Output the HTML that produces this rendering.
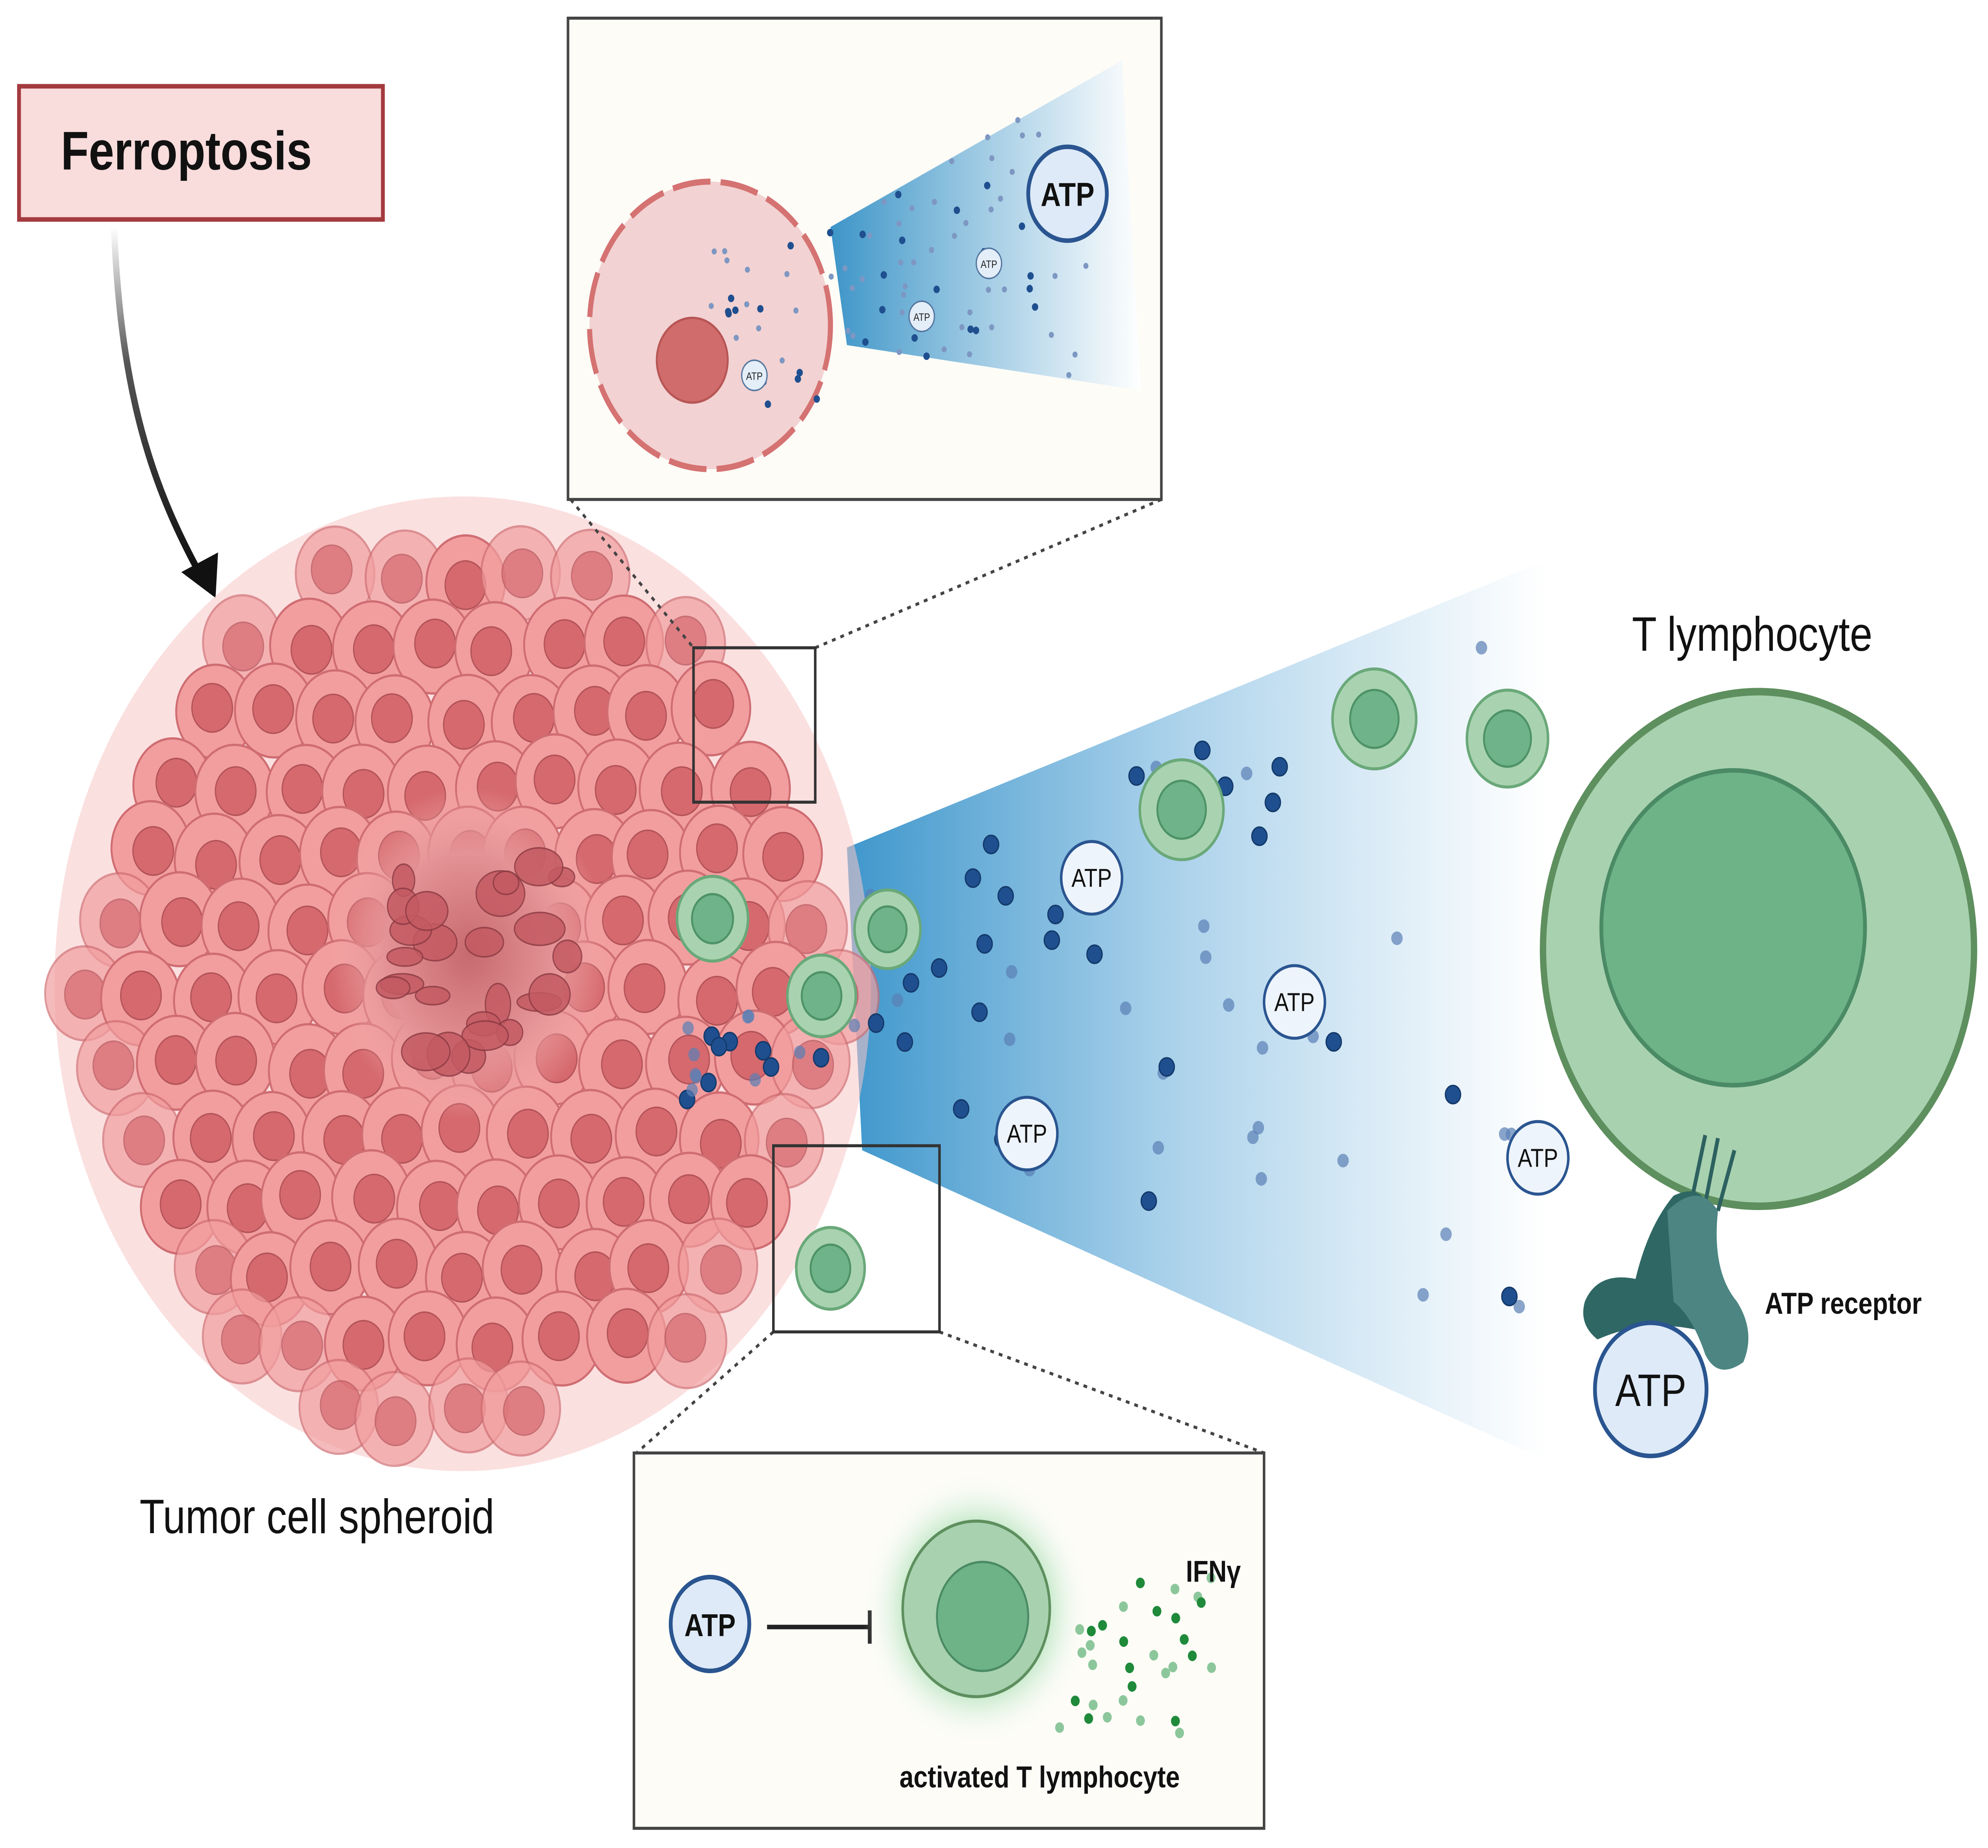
<!DOCTYPE html>
<html><head><meta charset="utf-8"><style>html,body{margin:0;padding:0;background:#fff;width:100%;height:100%;overflow:hidden}svg{display:block;width:100vw;height:100vh}text{font-family:"Liberation Sans",sans-serif}</style></head>
<body>
<svg id="s" viewBox="0 0 1568 1221" preserveAspectRatio="none" xmlns="http://www.w3.org/2000/svg">
<defs>
<linearGradient id="arr" x1="0" y1="0" x2="0" y2="1"><stop offset="0" stop-color="#fff"/><stop offset="0.4" stop-color="#555"/><stop offset="1" stop-color="#111"/></linearGradient>
<linearGradient id="cone" x1="0" y1="0" x2="1" y2="0"><stop offset="0" stop-color="#3f97cc"/><stop offset="0.45" stop-color="#a8d0ea"/><stop offset="1" stop-color="#fff" stop-opacity="0.9"/></linearGradient>
<linearGradient id="cone2" x1="0" y1="0" x2="1" y2="0"><stop offset="0" stop-color="#3d95c8"/><stop offset="1" stop-color="#fff" stop-opacity="0.9"/></linearGradient>
<radialGradient id="glow"><stop offset="0.5" stop-color="#7fd08f" stop-opacity="0.8"/><stop offset="1" stop-color="#fff" stop-opacity="0"/></radialGradient>
<radialGradient id="core"><stop offset="0" stop-color="#c66a6e"/><stop offset="0.6" stop-color="#e49295"/><stop offset="1" stop-color="#f3a9a9" stop-opacity="0"/></radialGradient>
</defs>
<rect width="1568" height="1221" fill="#fff"/>
<rect x="15" y="57" width="287" height="88" fill="#f9dcdc" stroke="#a33a3f" stroke-width="3"/>
<text x="48" y="112" font-size="36" font-weight="bold" fill="#111">Ferroptosis</text>
<path d="M90 150 C95 260 120 320 155 375" fill="none" stroke="url(#arr)" stroke-width="5"/>
<polygon points="143,378 170,395 172,365" fill="#111"/>
<polygon points="668,560 1220,370 1220,965 680,760" fill="url(#cone)"/>
<g id="sph"></g>
<g id="dots"></g>
<rect x="448" y="12" width="468" height="318" fill="#fdfcf7" stroke="#444" stroke-width="2"/>
<polygon points="655,150 885,40 900,258 668,228" fill="url(#cone2)"/>
<circle cx="560" cy="215" r="95" fill="#f2d2d2" stroke="#d57272" stroke-width="4" stroke-dasharray="30 8"/>
<circle cx="546" cy="238" r="28" fill="#d06c6c" stroke="#b85555" stroke-width="1.5"/>
<g id="tdots"></g>
<circle cx="842" cy="128" r="31" fill="#deeaf8" stroke="#2a5590" stroke-width="3"/>
<text x="842" y="136" font-size="22" font-weight="bold" text-anchor="middle" fill="#111">ATP</text>
<g font-size="7" text-anchor="middle" fill="#222">
<circle cx="780" cy="174" r="10" fill="#e4eef9" stroke="#5577a0"/><text x="780" y="177">ATP</text>
<circle cx="727" cy="209" r="10" fill="#e4eef9" stroke="#5577a0"/><text x="727" y="212">ATP</text>
<circle cx="595" cy="248" r="10" fill="#e4eef9" stroke="#5577a0"/><text x="595" y="251">ATP</text>
</g>
<g stroke="#444" stroke-width="2" stroke-dasharray="3 4" fill="none">
<line x1="450" y1="330" x2="547" y2="428"/><line x1="916" y1="330" x2="643" y2="428"/>
<line x1="610" y1="880" x2="502" y2="960"/><line x1="741" y1="880" x2="997" y2="960"/>
</g>
<rect x="547" y="428" width="96" height="102" fill="none" stroke="#333" stroke-width="2"/>
<rect x="610" y="757" width="131" height="123" fill="none" stroke="#333" stroke-width="2"/>
<g id="gc"></g>
<circle cx="1387" cy="627" r="170" fill="#a8d1af" stroke="#5e8f5e" stroke-width="5"/>
<circle cx="1367" cy="613" r="104" fill="#6db387" stroke="#4a8a65" stroke-width="3"/>
<text x="1382" y="430" font-size="32" text-anchor="middle" fill="#111">T lymphocyte</text>
<g stroke="#2d6160" stroke-width="3" fill="none"><path d="M1335 790 L1345 750"/><path d="M1345 795 L1355 752"/><path d="M1355 800 L1368 760"/></g>
<path d="M1250 860 Q1260 840 1290 845 Q1300 810 1320 790 Q1345 780 1350 805 L1345 880 Q1300 870 1260 885 Q1245 875 1250 860Z" fill="#2f6764"/>
<path d="M1315 800 Q1340 780 1355 800 Q1350 840 1370 860 Q1385 880 1375 900 Q1355 912 1345 895 Q1335 870 1320 860 Z" fill="#4c8582"/>
<circle cx="1302" cy="918" r="44" fill="#deeaf8" stroke="#2a5590" stroke-width="3"/>
<text x="1302" y="929" font-size="30" text-anchor="middle" fill="#111">ATP</text>
<text x="1392" y="868" font-size="20" font-weight="bold" fill="#111">ATP receptor</text>
<g font-size="17" text-anchor="middle" fill="#111">
<circle cx="861" cy="580" r="24" fill="#eef4fb" stroke="#2a5590" stroke-width="2"/><text x="861" y="586">ATP</text>
<circle cx="1021" cy="662" r="24" fill="#eef4fb" stroke="#2a5590" stroke-width="2"/><text x="1021" y="668">ATP</text>
<circle cx="810" cy="749" r="24" fill="#eef4fb" stroke="#2a5590" stroke-width="2"/><text x="810" y="755">ATP</text>
<circle cx="1213" cy="765" r="24" fill="#eef4fb" stroke="#2a5590" stroke-width="2"/><text x="1213" y="771">ATP</text>
</g>
<text x="250" y="1013" font-size="32" text-anchor="middle" fill="#111">Tumor cell spheroid</text>
<rect x="500" y="960" width="497" height="248" fill="#fdfcf7" stroke="#444" stroke-width="2"/>
<circle cx="560" cy="1073" r="31" fill="#deeaf8" stroke="#2a5590" stroke-width="3"/>
<text x="560" y="1081" font-size="21" font-weight="bold" text-anchor="middle" fill="#111">ATP</text>
<line x1="605" y1="1075" x2="686" y2="1075" stroke="#222" stroke-width="3"/>
<line x1="686" y1="1064" x2="686" y2="1086" stroke="#222" stroke-width="3"/>
<circle cx="770" cy="1063" r="90" fill="url(#glow)"/>
<circle cx="770" cy="1063" r="58" fill="#a8d1af" stroke="#5e8f5e" stroke-width="2"/>
<circle cx="775" cy="1068" r="36" fill="#6db387" stroke="#4a8a65" stroke-width="1.5"/>
<g id="gd"></g>
<text x="957" y="1045" font-size="20" font-weight="bold" text-anchor="middle" fill="#111">IFNγ</text>
<text x="820" y="1181" font-size="20" font-weight="bold" text-anchor="middle" fill="#111">activated T lymphocyte</text>
</svg>
<script>
(function(){
var N="http://www.w3.org/2000/svg";
function el(p,t,a){var e=document.createElementNS(N,t);for(var k in a)e.setAttribute(k,a[k]);p.appendChild(e);return e;}
var seed=7;function r(){seed=(seed*16807)%2147483647;return seed/2147483647;}
var sph=document.getElementById("sph");
el(sph,"circle",{cx:365,cy:650,r:322,fill:"#f8c6c6",opacity:0.55});
var cells=[];
for(var y=335;y<=975;y+=46){for(var x=40;x<=700;x+=50){var xx=x+((Math.round((y-335)/46))%2)*25+(r()-0.5)*10,yy=y+(r()-0.5)*10;var d=Math.hypot(xx-365,yy-650);if(d<300)cells.push([xx,yy,d]);}}
cells.forEach(function(c){var o=c[2]>270?0.7:1;el(sph,"circle",{cx:c[0],cy:c[1],r:31,fill:"#f29e9f",stroke:"#cf6d72","stroke-width":1.5,opacity:o});el(sph,"circle",{cx:c[0]+(r()-0.5)*6,cy:c[1]+(r()-0.5)*6,r:16,fill:"#d5696e",stroke:"#b4545a","stroke-width":1,opacity:o});});
el(sph,"circle",{cx:370,cy:630,r:110,fill:"url(#core)"});
for(var i=0;i<25;i++){el(sph,"ellipse",{cx:300+r()*150,cy:570+r()*130,rx:8+r()*12,ry:6+r()*9,fill:"#c45a62",stroke:"#8d3a42","stroke-width":1,opacity:0.85});}
var dots=document.getElementById("dots");
for(var i=0;i<75;i++){var x=520+r()*700;var t=Math.max((x-670)/550,0);var tp=560-190*t,bt=760+200*t;if(x<670){tp=640;bt=760;}var y=tp+30+r()*(bt-tp-60);var dk=r()<0.5;el(dots,"circle",{cx:x,cy:y,r:dk?6:4.5,fill:dk?"#1f4f8f":"#5a7fb5",stroke:"#143a6b","stroke-width":dk?1:0,opacity:dk?1:0.7});}
var td=document.getElementById("tdots");
for(var i=0;i<90;i++){var x=560+r()*300,t=(x-655)/230,tp,bt;if(x<655){tp=150;bt=270;}else{tp=150-110*t;bt=228+30*t;}var y=tp+r()*(bt-tp);var dk=r()<0.5;el(td,"circle",{cx:x,cy:y,r:dk?2.5:2,fill:dk?"#1f4f8f":"#7d97c2"});}
var gc=document.getElementById("gc");
[[562,607,28],[648,658,27],[700,614,26],[655,838,27],[932,535,33],[1084,475,33],[1189,488,32]].forEach(function(c){el(gc,"circle",{cx:c[0],cy:c[1],r:c[2],fill:"#a9d3b0",stroke:"#6aa879","stroke-width":2});el(gc,"circle",{cx:c[0],cy:c[1],r:c[2]*0.58,fill:"#6fb38a",stroke:"#4e9268","stroke-width":1.5});});
var gd=document.getElementById("gd");
for(var i=0;i<32;i++){var x=835+r()*130,y=1040+r()*105;var dk=r()<0.5;el(gd,"circle",{cx:x,cy:y,r:3.5,fill:dk?"#1f8a3a":"#8cc79b"});}
})();
</script>
</body></html>
